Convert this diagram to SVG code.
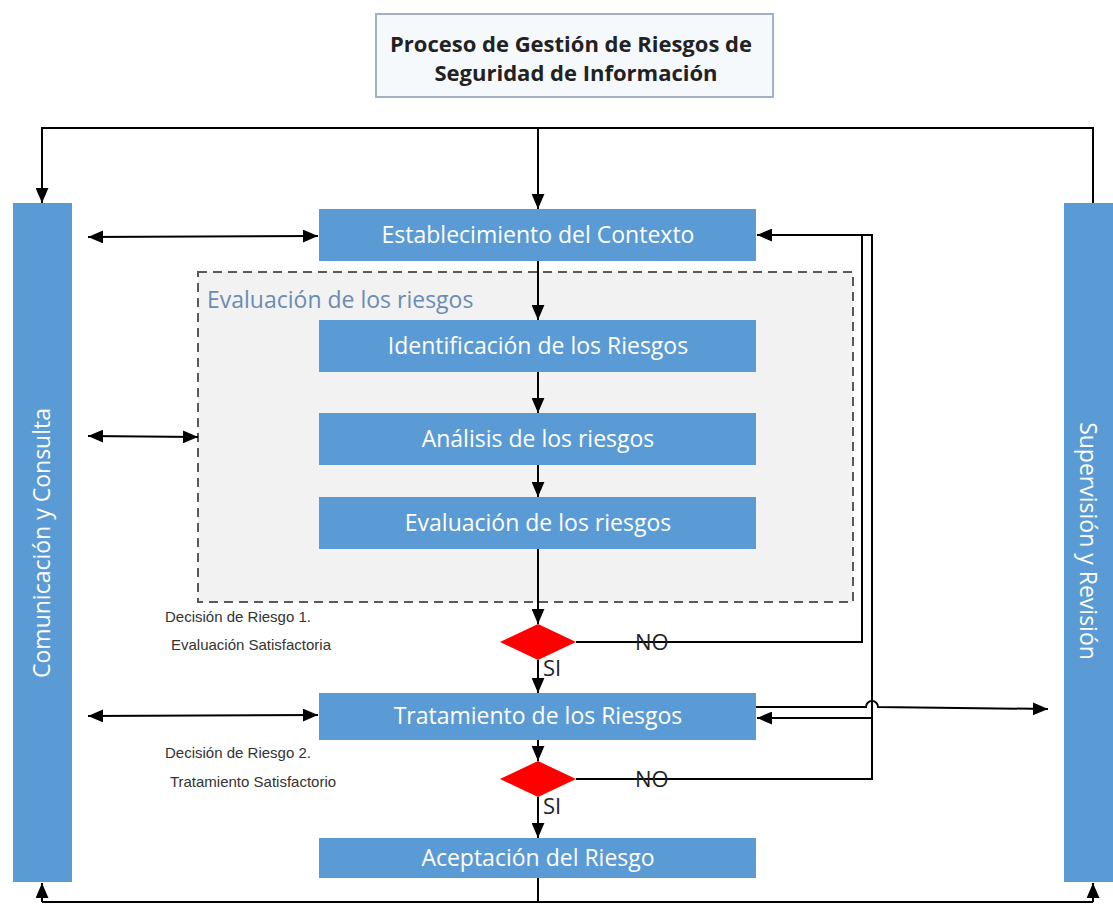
<svg xmlns="http://www.w3.org/2000/svg" width="1113" height="904" viewBox="0 0 1113 904">
<defs>
<marker id="ah" viewBox="0 0 14 12" refX="14" refY="6" markerWidth="15" markerHeight="13" markerUnits="userSpaceOnUse" orient="auto-start-reverse">
<path d="M0,0 L14,6 L0,12 z" fill="#000"/>
</marker>
<style>
.box{fill:#5b9bd5;}
.bt{fill:#fff;font-family:"Open Sans","Liberation Sans",sans-serif;font-size:23px;text-anchor:middle;}
.ln{fill:none;stroke:#000;stroke-width:2;}
.lb{fill:#333;font-family:"Liberation Sans",sans-serif;font-size:15px;text-anchor:middle;}
.yn{fill:#222;font-family:"Open Sans","Liberation Sans",sans-serif;font-size:22px;}
.dia{fill:#ff0000;}
</style>
</defs>
<rect width="1113" height="904" fill="#fff"/>

<g id="title">
<rect x="376" y="14" width="397" height="83" fill="#f6f9fc" stroke="#a3b3c2" stroke-width="2"/>
<text x="571" y="52" font-family="Open Sans, Liberation Sans, sans-serif" font-size="22" font-weight="bold" fill="#222" text-anchor="middle">Proceso de Gestión de Riesgos de</text>
<text x="576" y="81" font-family="Open Sans, Liberation Sans, sans-serif" font-size="22" font-weight="bold" fill="#222" text-anchor="middle">Seguridad de Información</text>
</g>

<g id="evaluacion-group">
<rect x="198" y="272" width="655" height="330" fill="#f2f2f2" stroke="#595959" stroke-width="2" stroke-dasharray="9,6"/>
<text x="207" y="308" font-family="Open Sans, Liberation Sans, sans-serif" font-size="23" fill="#6a8cb4">Evaluación de los riesgos</text>
</g>

<g id="comunicacion">
<rect class="box" x="13" y="203" width="59" height="679"/>
<text class="bt" transform="translate(50,543) rotate(-90)">Comunicación y Consulta</text>
</g>
<g id="supervision">
<rect class="box" x="1064" y="203" width="49" height="679"/>
<text class="bt" transform="translate(1080,541) rotate(90)">Supervisión y Revisión</text>
</g>

<g id="establecimiento">
<rect class="box" x="319" y="209" width="437" height="52"/>
<text class="bt" x="538" y="243">Establecimiento del Contexto</text>
</g>
<g id="identificacion">
<rect class="box" x="319" y="320" width="437" height="52"/>
<text class="bt" x="538" y="354">Identificación de los Riesgos</text>
</g>
<g id="analisis">
<rect class="box" x="319" y="413" width="437" height="52"/>
<text class="bt" x="538" y="447">Análisis de los riesgos</text>
</g>
<g id="evaluacion">
<rect class="box" x="319" y="497" width="437" height="52"/>
<text class="bt" x="538" y="531">Evaluación de los riesgos</text>
</g>
<g id="decision1">
<polygon class="dia" points="538,624 576,642 538,660 500,642"/>
<text class="lb" x="238" y="622">Decisión de Riesgo 1.</text>
<text class="lb" x="251" y="650">Evaluación Satisfactoria</text>
</g>
<g id="tratamiento">
<rect class="box" x="319" y="693" width="437" height="47"/>
<text class="bt" x="538" y="724">Tratamiento de los Riesgos</text>
</g>
<g id="decision2">
<polygon class="dia" points="538,761 576,779 538,797 500,779"/>
<text class="lb" x="238" y="758">Decisión de Riesgo 2.</text>
<text class="lb" x="253" y="787">Tratamiento Satisfactorio</text>
</g>
<g id="aceptacion">
<rect class="box" x="319" y="838" width="437" height="40"/>
<text class="bt" x="538" y="866">Aceptación del Riesgo</text>
</g>

<g id="connectors">
<polyline class="ln" points="1093,203 1093,128 42,128 42,203" marker-end="url(#ah)"/>
<line class="ln" x1="538" y1="128" x2="538" y2="209" marker-end="url(#ah)"/>
<polyline class="ln" points="538,878 538,902"/>
<line class="ln" x1="42" y1="902" x2="1093" y2="902"/>
<line class="ln" x1="42" y1="902" x2="42" y2="883" marker-end="url(#ah)"/>
<line class="ln" x1="1093" y1="902" x2="1093" y2="883" marker-end="url(#ah)"/>
<line class="ln" x1="538" y1="261" x2="538" y2="320" marker-end="url(#ah)"/>
<line class="ln" x1="538" y1="372" x2="538" y2="413" marker-end="url(#ah)"/>
<line class="ln" x1="538" y1="465" x2="538" y2="497" marker-end="url(#ah)"/>
<line class="ln" x1="538" y1="549" x2="538" y2="624" marker-end="url(#ah)"/>
<line class="ln" x1="538" y1="660" x2="538" y2="693" marker-end="url(#ah)"/>
<line class="ln" x1="538" y1="740" x2="538" y2="761" marker-end="url(#ah)"/>
<line class="ln" x1="538" y1="797" x2="538" y2="838" marker-end="url(#ah)"/>
<line class="ln" x1="88" y1="237" x2="318" y2="236" marker-start="url(#ah)" marker-end="url(#ah)"/>
<line class="ln" x1="88" y1="436" x2="198" y2="437" marker-start="url(#ah)" marker-end="url(#ah)"/>
<line class="ln" x1="88" y1="716" x2="318" y2="715" marker-start="url(#ah)" marker-end="url(#ah)"/>
<polyline class="ln" points="576,642 862,642 862,235"/>
<polyline class="ln" points="576,779 872,779 872,235 757,235" marker-end="url(#ah)"/>
<line class="ln" x1="872" y1="718" x2="757" y2="718" marker-end="url(#ah)"/>
<path class="ln" d="M756,707 L866,707 A6,6 0 0 1 878,707 L1048,709" marker-end="url(#ah)"/>
<text class="yn" x="635" y="650">NO</text>
<text class="yn" x="543" y="676">SI</text>
<text class="yn" x="635" y="787">NO</text>
<text class="yn" x="543" y="814">SI</text>
</g>
</svg>
